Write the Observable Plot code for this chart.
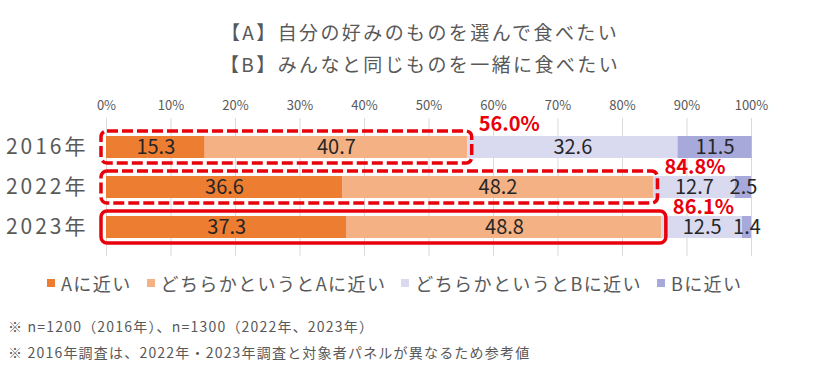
<!DOCTYPE html>
<html lang="ja">
<head>
<meta charset="utf-8">
<script src="https://cdn.jsdelivr.net/npm/d3@7"></script>
<script src="https://cdn.jsdelivr.net/npm/@observablehq/plot@0.6"></script>
<style>
  html, body { margin: 0; padding: 0; background: #fff; }
  body { width: 840px; height: 367px; position: relative; overflow: hidden;
         font-family: "Noto Sans CJK JP", "Noto Sans", sans-serif; color: #595959; }
  #title { position: absolute; left: 0; top: 16px; width: 840px; text-align: center;
           font-size: 19px; line-height: 32px; letter-spacing: 2.4px; }
  #chart { position: absolute; left: 0; top: 80px; }
  #legend { position: absolute; left: 47px; top: 270px; display: flex; align-items: center;
            font-size: 18px; letter-spacing: 1.4px; line-height: 26px; }
  #legend .item { display: flex; align-items: center; margin-right: 15px; }
  #legend .sw { width: 8px; height: 8px; margin-right: 6px; }
  #notes { position: absolute; left: 8px; top: 313px; font-size: 14px; line-height: 26px; letter-spacing: 1.2px; }
  g[aria-label="y-axis tick label"] { letter-spacing: 3px; }
</style>
</head>
<body>
<div id="title"></div>
<div id="chart"></div>
<div id="legend"></div>
<div id="notes"></div>
<script>
const titleLines = ["【A】自分の好みのものを選んで食べたい", "【B】みんなと同じものを一緒に食べたい"];
const years = ["2016年", "2022年", "2023年"];
const categories = ["Aに近い", "どちらかというとAに近い", "どちらかというとBに近い", "Bに近い"];
const colors = ["#ED7D31", "#F4B183", "#D9DAF0", "#A7A9DA"];
const valuesA = [15.3, 36.6, 37.3];
const valuesA2 = [40.7, 48.2, 48.8];
const valuesB2 = [32.6, 12.7, 12.5];
const valuesB = [11.5, 2.5, 1.4];
const xTicks = [0, 10, 20, 30, 40, 50, 60, 70, 80, 90, 100];
const notes = ["※ n=1200（2016年）、n=1300（2022年、2023年）", "※ 2016年調査は、2022年・2023年調査と対象者パネルが異なるため参考値"];

const red = "#E8000B";
const series = [valuesA, valuesA2, valuesB2, valuesB];
const data = [];
years.forEach((y, i) => categories.forEach((c, j) => data.push({year: y, cat: c, value: series[j][i]})));
const boxes = years.map((y, i) => ({year: y, total: +(valuesA[i] + valuesA2[i]).toFixed(1)}));

d3.select("#title").selectAll("div").data(titleLines).join("div").text(d => d);

const boxOpts = {x1: 0, x2: "total", y: "year", fill: "none", stroke: red, strokeWidth: 3.5,
  rx: 6, insetTop: -5, insetBottom: -5, insetLeft: -5, insetRight: -4.5};
const lblOpts = {x: "total", y: "year", text: d => d.total.toFixed(1) + "%", textAnchor: "start",
  dx: 11, fill: red, fontWeight: "bold", fontSize: 20, letterSpacing: 1};

const chart = Plot.plot({
  width: 840, height: 178,
  marginLeft: 106, marginRight: 89, marginTop: 38, marginBottom: 2,
  style: {fontFamily: "'Noto Sans CJK JP', 'Noto Sans', sans-serif", background: "transparent"},
  x: {domain: [0, 100]},
  y: {domain: years, padding: 0.44},
  color: {domain: categories, range: colors},
  marks: [
    Plot.gridX(xTicks, {stroke: "#D9D9D9", strokeOpacity: 1}),
    Plot.axisX({anchor: "top", ticks: xTicks, tickFormat: d => d + "%", tickSize: 0, tickPadding: 9,
                fontSize: 13, color: "#595959", label: null}),
    Plot.axisY({tickSize: 0, tickPadding: 18, fontSize: 21, color: "#595959", label: null}),
    Plot.barX(data, Plot.stackX({x: "value", y: "year", fill: "cat", order: null})),
    Plot.text(data, Plot.stackX({x: "value", y: "year", text: d => d.value.toFixed(1), order: null,
                fill: "#262626", fontSize: 20})),
    Plot.barX(boxes.filter(d => d.year !== "2023年"), {...boxOpts, strokeDasharray: "11,4"}),
    Plot.barX(boxes.filter(d => d.year === "2023年"), boxOpts),
    Plot.text(boxes.filter(d => d.year === "2016年"), {...lblOpts, dy: -23}),
    Plot.text(boxes.filter(d => d.year !== "2016年"), {...lblOpts, dy: -20})
  ]
});
document.getElementById("chart").appendChild(chart);

const items = d3.select("#legend").selectAll("div").data(categories).join("div").attr("class", "item");
items.append("span").attr("class", "sw").style("background", (d, i) => colors[i]);
items.append("span").text(d => d);

d3.select("#notes").selectAll("div").data(notes).join("div").text(d => d);
</script>
</body>
</html>
